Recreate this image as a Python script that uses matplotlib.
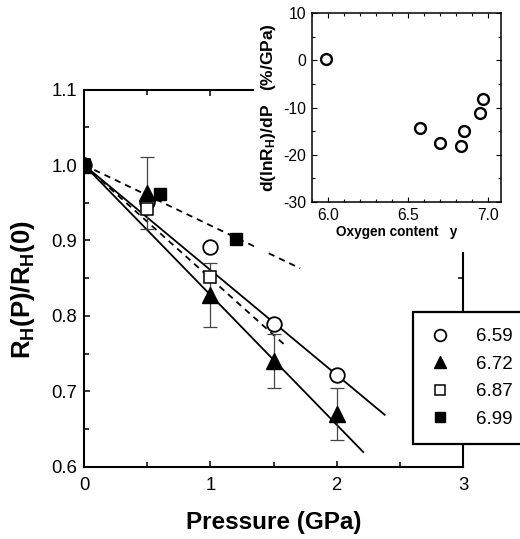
import matplotlib
matplotlib.use("Agg")
import matplotlib.pyplot as plt
import numpy as np
from matplotlib.ticker import MultipleLocator, FormatStrFormatter

plt.rcParams['font.family'] = ['Liberation Sans', 'DejaVu Sans']
plt.rcParams['axes.unicode_minus'] = False
plt.rcParams['mathtext.fontset'] = 'custom'
plt.rcParams['mathtext.rm'] = 'Liberation Sans:bold'
plt.rcParams['mathtext.it'] = 'Liberation Sans:bold'
plt.rcParams['mathtext.bf'] = 'Liberation Sans:bold'

# ---- main panel data ----
labels = ["6.59", "6.72", "6.87", "6.99"]
p_659 = [0.0, 0.5, 1.0, 1.5, 2.0]
r_659 = [1.0, 0.951, 0.891, 0.789, 0.722]
p_672 = [0.0, 0.5, 1.0, 1.5, 2.0]
r_672 = [1.0, 0.963, 0.828, 0.740, 0.670]
e_672 = [0.0, 0.048, 0.042, 0.036, 0.034]
p_687 = [0.0, 0.5, 1.0]
r_687 = [1.0, 0.942, 0.851]
p_699 = [0.0, 0.6, 1.2]
r_699 = [1.0, 0.962, 0.902]

# linear fits: slope (1/GPa) and end pressure of drawn line
fit_slopes = [-0.139, -0.172, -0.150, -0.080]
fit_ends = [2.38, 2.21, 1.60, 1.71]
fit_styles = ['-', '-', '--', '--']

# ---- inset data ----
oxygen = [5.99, 6.575, 6.70, 6.83, 6.85, 6.95, 6.97]
dlnR = [0.2, -14.3, -17.6, -18.1, -14.9, -11.2, -8.1]

W, H = 520, 539
fig = plt.figure(figsize=(W / 100, H / 100), dpi=100)

# main axes
ax = fig.add_axes([84 / W, 1 - 467 / H, (463 - 84) / W, (467 - 89.5) / H])
ax.set_xlim(0, 3)
ax.set_ylim(0.6, 1.1)

for s, xe, ls in zip(fit_slopes, fit_ends, fit_styles):
    xx = np.array([0.0, xe])
    ax.plot(xx, 1.0 + s * xx, color='black', lw=1.3, ls=ls,
            dashes=(3.5, 2.8) if ls == '--' else (None, None), zorder=2)

pe = np.array(p_672)
re = np.array(r_672)
ee = np.array(e_672)
sel = ee > 0
ax.errorbar(pe[sel], re[sel], yerr=ee[sel], fmt='none', ecolor='#444444',
            elinewidth=0.9, capsize=4.7, capthick=0.9, zorder=3)

h1, = ax.plot(p_659, r_659, 'o', ms=10.5, mfc='white', mec='black', mew=1.3,
              ls='none', zorder=4)
h2, = ax.plot(p_672, r_672, '^', ms=11.5, mfc='black', mec='black',
              ls='none', zorder=5)
h3, = ax.plot(p_687, r_687, 's', ms=9, mfc='white', mec='black', mew=1.1,
              ls='none', zorder=5)
h4, = ax.plot(p_699, r_699, 's', ms=9, mfc='black', mec='black',
              ls='none', zorder=5)

ax.xaxis.set_major_locator(MultipleLocator(1))
ax.xaxis.set_minor_locator(MultipleLocator(0.5))
ax.yaxis.set_major_locator(MultipleLocator(0.1))
ax.yaxis.set_minor_locator(MultipleLocator(0.05))
ax.yaxis.set_major_formatter(FormatStrFormatter('%.1f'))
ax.tick_params(which='both', direction='in', top=True, right=True,
               width=1.1, labelsize=13.3)
ax.tick_params(which='major', length=4.5)
ax.tick_params(which='minor', length=3.5)
ax.tick_params(axis='x', which='major', pad=7.5)
ax.tick_params(axis='y', which='major', pad=5)
for sp in ax.spines.values():
    sp.set_linewidth(1.5)

ax.set_xlabel('Pressure (GPa)', fontsize=17.5, fontweight='bold')
ax.xaxis.set_label_coords(0.5, -(522 - 467) / 377.5)
ax.xaxis.label.set_va('center')
ax.set_ylabel(r'R$_{\rm H}$(P)/R$_{\rm H}$(0)', fontsize=18.5, fontweight='bold')
ax.yaxis.set_label_coords((23 - 84) / 379, (467 - 290) / 377.5)
ax.yaxis.label.set_va('center')

leg = ax.legend([h1, h2, h3, h4], labels, loc='upper left',
                bbox_to_anchor=(413 / W, 1 - 312 / H),
                bbox_transform=fig.transFigure, fontsize=13.5,
                frameon=True, fancybox=False, framealpha=1,
                edgecolor='black', borderpad=0.85, labelspacing=0.56,
                handlelength=1.2, handletextpad=1.3, borderaxespad=0,
                markerscale=0.8)
leg.get_frame().set_linewidth(1.6)
leg.set_zorder(10)

# white mask hiding the main frame behind the inset
mask = fig.add_axes([254 / W, 1 - 252 / H, 1 - 254 / W, 252 / H])
mask.set_facecolor('white')
for sp in mask.spines.values():
    sp.set_visible(False)
mask.set_xticks([])
mask.set_yticks([])

# inset
ins = fig.add_axes([311.7 / W, 1 - 202 / H, (501 - 311.7) / W, (202 - 13) / H])
ins.set_xlim(5.9, 7.08)
ins.set_ylim(-30, 10)
ins.plot(oxygen, dlnR, 'o', ms=7.8, mfc='white', mec='black', mew=1.7, ls='none')
ins.xaxis.set_major_locator(MultipleLocator(0.5))
ins.xaxis.set_minor_locator(MultipleLocator(0.1))
ins.xaxis.set_major_formatter(FormatStrFormatter('%.1f'))
ins.yaxis.set_major_locator(MultipleLocator(10))
ins.yaxis.set_minor_locator(MultipleLocator(5))
ins.tick_params(which='both', direction='in', top=True, right=True,
                width=0.8, labelsize=11.3)
ins.tick_params(which='major', length=3.5, pad=4)
ins.tick_params(which='minor', length=2.5)
for sp in ins.spines.values():
    sp.set_linewidth(1.1)
ins.set_xlabel('Oxygen content   y', fontsize=9.8, fontweight='bold')
ins.xaxis.set_label_coords((396.5 - 311.7) / 189.3, -(232 - 202) / 189)
ins.xaxis.label.set_va('center')
ins.set_ylabel(r'd(lnR$_{\rm H}$)/dP   (%/GPa)', fontsize=12.5, fontweight='bold')
ins.yaxis.set_label_coords((268 - 311.7) / 189.3, 0.5)
ins.yaxis.label.set_va('center')

fig.savefig('out.png', dpi=100)
